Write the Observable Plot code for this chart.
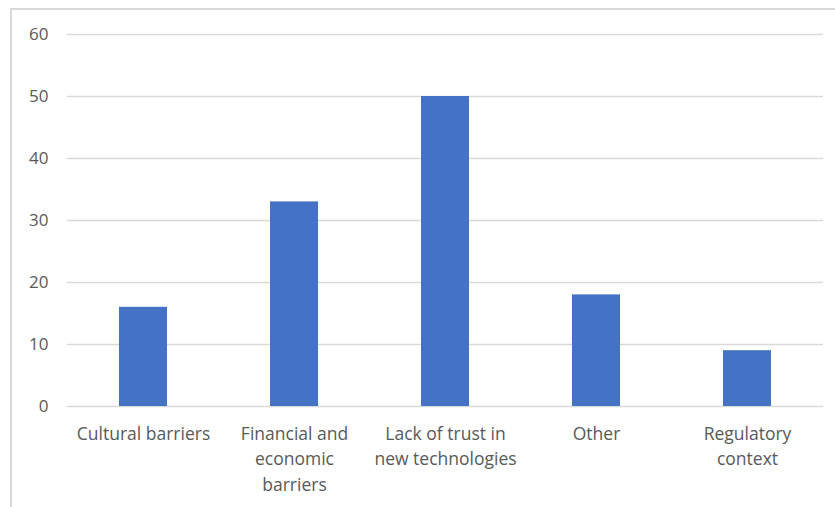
<!DOCTYPE html>
<html>
<head>
<meta charset="utf-8">
<script src="https://cdn.jsdelivr.net/npm/d3@7"></script>
<script src="https://cdn.jsdelivr.net/npm/@observablehq/plot@0.6"></script>
<style>
  html, body { margin: 0; padding: 0; background: #fff; }
  #wrap { position: relative; width: 835px; height: 507px; overflow: hidden; }
  #frame { position: absolute; left: 10px; top: 8px; width: 900px; height: 700px; border: 2px solid #d9d9d9; box-sizing: border-box; }
  #chart { position: absolute; left: 0; top: 0; }
</style>
</head>
<body>
<div id="wrap"><div id="frame"></div><div id="chart"></div></div>
<script>
const categories = ["Cultural barriers", "Financial and economic barriers", "Lack of trust in new technologies", "Other", "Regulatory context"];
const values = [16, 33, 50, 18, 9];
const tickLabels = ["Cultural barriers", "Financial and\neconomic\nbarriers", "Lack of trust in\nnew technologies", "Other", "Regulatory\ncontext"];
const yTicks = [0, 10, 20, 30, 40, 50, 60];

const data = categories.map((c, i) => ({category: c, value: values[i]}));
const labelMap = new Map(categories.map((c, i) => [c, tickLabels[i]]));

const chart = Plot.plot({
  width: 835,
  height: 507,
  marginLeft: 67,
  marginRight: 12,
  marginTop: 34,
  marginBottom: 101,
  style: {fontFamily: "Open Sans", fontSize: "18px", color: "#595959", background: "transparent"},
  x: {domain: categories, paddingInner: 0.683, paddingOuter: 0.3415, label: null},
  y: {domain: [0, 60], label: null},
  marks: [
    Plot.gridY(yTicks, {stroke: "#d9d9d9", strokeOpacity: 1, strokeWidth: 1.3}),
    Plot.barY(data, {x: "category", y: "value", fill: "#4472c4"}),
    Plot.axisY({ticks: yTicks, tickSize: 0, tickPadding: 19, fontSize: 17, fill: "#595959", label: null}),
    Plot.axisX({tickSize: 0, tickPadding: 15, fontSize: 17.5, fill: "#595959", lineHeight: 1.47, tickFormat: d => labelMap.get(d), label: null})
  ]
});
document.getElementById("chart").appendChild(chart);
</script>
</body>
</html>
